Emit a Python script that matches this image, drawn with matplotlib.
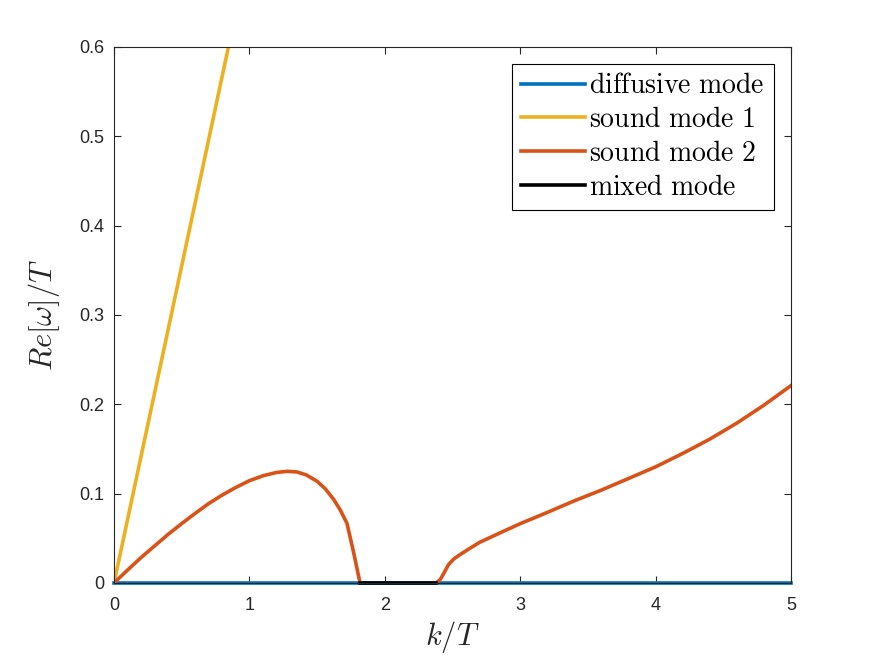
import numpy as np
import matplotlib
matplotlib.use("Agg")
import matplotlib.pyplot as plt

plt.rcParams["mathtext.fontset"] = "cm"
plt.rcParams["font.family"] = ["Liberation Sans", "DejaVu Sans"]

# diffusive mode: Re[w] = 0 everywhere
k_diff = [0.0, 5.0]
w_diff = [0.0, 0.0]

# sound mode 1 (straight line, leaves the plot at the top)
k_s1 = [0.0, 0.5, 1.0]
w_s1 = [0.0, 0.355, 0.71]

# sound mode 2, left branch
k_s2a = [0.0, 0.1, 0.2, 0.3, 0.4, 0.5, 0.6, 0.7, 0.8, 0.9, 1.0, 1.1, 1.2, 1.28,
         1.35, 1.42, 1.5, 1.56, 1.62, 1.67, 1.72, 1.77, 1.817]
w_s2a = [0.0, 0.0145, 0.0285, 0.0415, 0.0545, 0.0665, 0.078, 0.089, 0.0985, 0.107,
         0.1145, 0.12, 0.1237, 0.125, 0.1243, 0.121, 0.1138, 0.1055, 0.094, 0.082,
         0.067, 0.034, 0.0]

# sound mode 2, right branch
k_s2b = [2.378, 2.41, 2.44, 2.47, 2.51, 2.555, 2.62, 2.7, 2.8, 2.9, 3.0, 3.2, 3.4,
         3.6, 3.8, 4.0, 4.2, 4.4, 4.6, 4.8, 5.0]
w_s2b = [0.0, 0.004, 0.012, 0.0205, 0.027, 0.0317, 0.038, 0.0455, 0.0525, 0.0595,
         0.0664, 0.079, 0.092, 0.104, 0.117, 0.130, 0.145, 0.161, 0.179, 0.199, 0.221]

# mixed mode
k_mix = [1.817, 2.378]
w_mix = [0.0, 0.0]

blue = "#0072BD"
orange = "#D95319"
yellow = "#EDB120"

fig = plt.figure(figsize=(8.75, 6.56), dpi=100)
ax = fig.add_axes([0.1303, 0.1113, 0.7737, 0.8171])

lw = 2.6
ax.plot(k_diff, w_diff, color=blue, lw=lw, label=r"$\mathrm{diffusive\ mode}$", clip_on=False)
ax.plot(k_s1, w_s1, color=yellow, lw=lw, label=r"$\mathrm{sound\ mode\ 1}$")
k_s2 = k_s2a + [np.nan] + k_s2b
w_s2 = w_s2a + [np.nan] + w_s2b
ax.plot(k_s2, w_s2, color=orange, lw=lw, label=r"$\mathrm{sound\ mode\ 2}$")
ax.plot(k_mix, w_mix, color="black", lw=lw, label=r"$\mathrm{mixed\ mode}$", clip_on=False)

ax.set_xlim(0, 5)
ax.set_ylim(0, 0.6)
ax.set_xticks([0, 1, 2, 3, 4, 5])
ax.set_xticklabels(["0", "1", "2", "3", "4", "5"])
ax.set_yticks([0, 0.1, 0.2, 0.3, 0.4, 0.5, 0.6])
ax.set_yticklabels(["0", "0.1", "0.2", "0.3", "0.4", "0.5", "0.6"])

axcol = "#262626"
ax.tick_params(direction="in", length=5, width=0.8, colors=axcol, labelsize=13,
               top=True, right=True)
ax.tick_params(axis="x", pad=10)
ax.tick_params(axis="y", pad=7)
for sp in ax.spines.values():
    sp.set_color(axcol)
    sp.set_linewidth(0.8)

ax.set_xlabel(r"$k/T$", fontsize=22, color=axcol, labelpad=4)
ax.set_ylabel(r"$Re[\omega]/T$", fontsize=22, color=axcol, labelpad=12)

leg = ax.legend(loc="upper right", fontsize=20, frameon=True, fancybox=False,
                edgecolor="black", framealpha=1, handlelength=2.3, handletextpad=0.15,
                borderpad=0.35, labelspacing=0.28, borderaxespad=0.6)
leg.get_frame().set_linewidth(0.8)

fig.savefig("out.png", dpi=100)
